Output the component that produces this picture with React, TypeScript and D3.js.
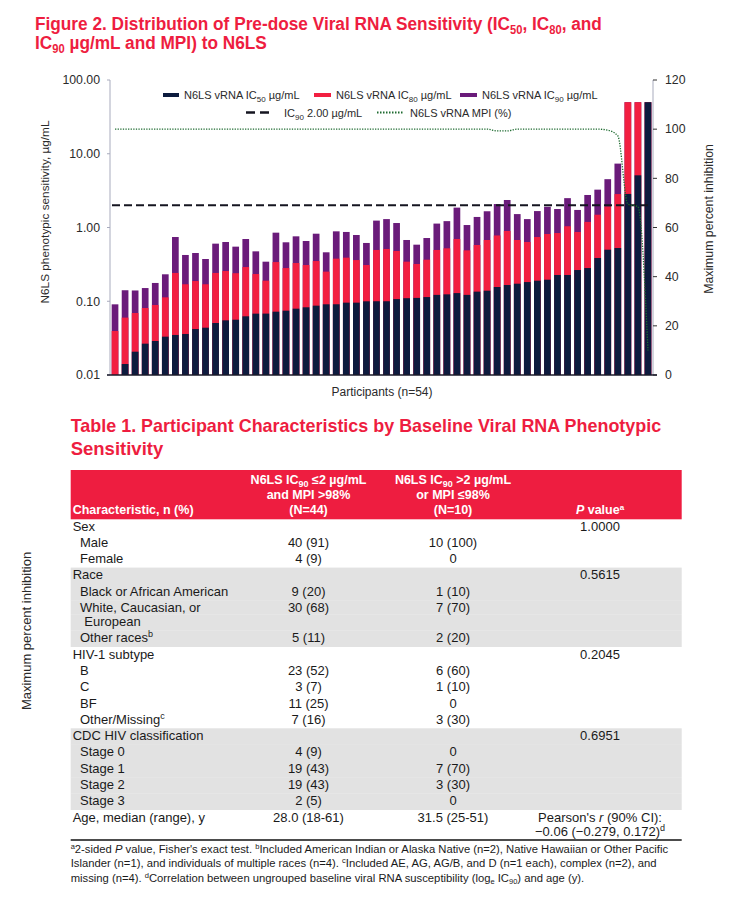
import React, { useLayoutEffect, useRef, useState } from "react";
import * as d3 from "d3";

// ---------- Chart data ----------
const participants = Array.from({ length: 54 }, (_, i) => i + 1);
const ic50 = [0.009, 0.0141, 0.0207, 0.0266, 0.0289, 0.0331, 0.0349, 0.036, 0.042, 0.0438, 0.0507, 0.0551, 0.0562, 0.0625, 0.0679, 0.068, 0.0722, 0.0745, 0.0793, 0.0828, 0.0871, 0.0909, 0.091, 0.0957, 0.0957, 0.0998, 0.1, 0.1, 0.107, 0.11, 0.111, 0.114, 0.122, 0.124, 0.129, 0.122, 0.135, 0.139, 0.156, 0.166, 0.173, 0.182, 0.19, 0.196, 0.227, 0.227, 0.265, 0.282, 0.386, 0.5, 0.527, 2.85, 5.1, 50];
const ic80 = [0.0395, 0.06, 0.0693, 0.081, 0.089, 0.113, 0.242, 0.17, 0.188, 0.17, 0.242, 0.257, 0.24, 0.291, 0.234, 0.19, 0.34, 0.282, 0.33, 0.31, 0.351, 0.252, 0.378, 0.39, 0.362, 0.31, 0.496, 0.511, 0.48, 0.344, 0.32, 0.366, 0.496, 0.522, 0.698, 0.49, 0.579, 0.677, 0.78, 0.897, 0.677, 0.636, 0.743, 0.816, 0.842, 1.04, 0.869, 1.19, 1.49, 1.93, 2.84, 50, 50, 50];
const ic90 = [0.0908, 0.141, 0.14, 0.151, 0.177, 0.232, 0.743, 0.424, 0.451, 0.374, 0.604, 0.636, 0.55, 0.698, 0.475, 0.344, 0.851, 0.63, 0.759, 0.656, 0.824, 0.461, 0.887, 0.87, 0.791, 0.617, 1.24, 1.3, 1.15, 0.677, 0.585, 0.72, 1.13, 1.22, 1.86, 1.08, 1.39, 1.66, 2.08, 2.36, 1.52, 1.3, 1.67, 1.91, 1.78, 2.5, 1.73, 2.76, 3.26, 4.52, 7.35, 50, 50, 50];
const mpi = [100, 100, 100, 100, 100, 100, 100, 100, 100, 100, 100, 100, 100, 100, 100, 100, 100, 100, 100, 100, 100, 100, 100, 100, 100, 100, 100, 100, 100, 100, 100, 100, 100, 100, 100, 100, 100, 100, 99.3, 99.3, 100, 100, 100, 100, 100, 100, 100, 100, 100, 99.6, 97.3, 69.5, 68.5, 10];
const leftTicks = [0.01, 0.1, 1, 10, 100];
const rightTicks = [0, 20, 40, 60, 80, 100, 120];
const ic90Threshold = 2;

// ---------- Table data ----------
const rowLabels = ["Sex", "Male", "Female", "Race", "Black or African American", "White, Caucasian, or", "European", "Other races", "HIV-1 subtype", "B", "C", "BF", "Other/Missing", "CDC HIV classification", "Stage 0", "Stage 1", "Stage 2", "Stage 3", "Age, median (range), y"];
const rowIndent = [0, 1, 1, 0, 1, 1, 2, 1, 0, 1, 1, 1, 1, 0, 1, 1, 1, 1, 0];
const rowSup = ["", "", "", "", "", "", "", "b", "", "", "", "", "c", "", "", "", "", "", ""];
const group1 = ["", "40 (91)", "4 (9)", "", "9 (20)", "30 (68)", "", "5 (11)", "", "23 (52)", "3 (7)", "11 (25)", "7 (16)", "", "4 (9)", "19 (43)", "19 (43)", "2 (5)", "28.0 (18-61)"];
const group2 = ["", "10 (100)", "0", "", "1 (10)", "7 (70)", "", "2 (20)", "", "6 (60)", "1 (10)", "0", "3 (30)", "", "0", "7 (70)", "3 (30)", "0", "31.5 (25-51)"];
const pValues = ["1.0000", "", "", "0.5615", "", "", "", "", "0.2045", "", "", "", "", "0.6951", "", "", "", "", ""];
const shadedRows = [3, 4, 5, 6, 7, 13, 14, 15, 16, 17];

const SANS = "'Liberation Sans', Arial, Helvetica, sans-serif";
const NARROW = "'Liberation Sans Narrow', 'Arial Narrow', 'Liberation Sans', sans-serif";
const RED = "#EE1D40";
const NAVY = "#0D1B3E";
const BAR_RED = "#F21F41";
const PURPLE = "#6A1B7A";
const GREEN = "#1E6B30";
const TXT = "#2a2a2a";

export default function App() {
  const x = d3.scaleBand<number>().domain(participants).range([110, 653]).paddingInner(0.334).paddingOuter(0.167);
  const y = d3.scaleLog().domain([0.01, 100]).range([375, 80]);
  const y2 = d3.scaleLinear().domain([0, 120]).range([375, 80]);
  const bw = x.bandwidth();
  const cx = (i: number) => (x(participants[i]) as number) + bw / 2;
  const mpiLine = d3.line<number>().x((_, i) => cx(i)).y((d) => y2(d)).curve(d3.curveMonotoneX)(mpi) || "";
  const barH = (v: number) => Math.max(0, y(0.01) - y(Math.max(v, 0.01)));

  const t1 = useRef<SVGTextElement>(null);
  const t2 = useRef<SVGTextElement>(null);
  const [s1, setS1] = useState(0.93);
  const [s2, setS2] = useState(0.93);
  useLayoutEffect(() => {
    if (t1.current) {
      const w = t1.current.getBBox().width;
      if (w > 0) setS1(567 / w);
    }
    if (t2.current) {
      const w = t2.current.getBBox().width;
      if (w > 0) setS2(232 / w);
    }
  }, []);

  // table row baselines
  const rowY: number[] = [];
  let cur = 530.5;
  rowLabels.forEach((_, i) => {
    if (i > 0) cur += i === 6 ? 14 : 16.3;
    rowY.push(cur);
  });

  return (
    <svg width={736} height={906} style={{ position: "absolute", left: 0, top: 0, background: "#fff" }} fontFamily={SANS}>
      {/* Figure title */}
      <g transform={`translate(35,30) scale(${s1},1)`}>
        <text ref={t1} x={0} y={0} fill={RED} fontFamily={NARROW} fontWeight="bold" fontSize={18.5}>
          Figure 2. Distribution of Pre-dose Viral RNA Sensitivity (IC<tspan dy={4} fontSize={12}>50</tspan><tspan dy={-4}>, IC</tspan><tspan dy={4} fontSize={12}>80</tspan><tspan dy={-4}>, and</tspan>
        </text>
      </g>
      <g transform={`translate(35,49.3) scale(${s2},1)`}>
        <text ref={t2} x={0} y={0} fill={RED} fontFamily={NARROW} fontWeight="bold" fontSize={18.5}>
          IC<tspan dy={4} fontSize={12}>90</tspan><tspan dy={-4}> µg/mL and MPI) to N6LS</tspan>
        </text>
      </g>

      {/* Bars */}
      <g>
        {participants.map((p, i) => (
          <g key={p}>
            <rect x={x(p)} y={y(0.01) - barH(ic90[i])} width={bw} height={barH(ic90[i])} fill={PURPLE} />
            <rect x={x(p)} y={y(0.01) - barH(ic80[i])} width={bw} height={barH(ic80[i])} fill={BAR_RED} />
            <rect x={x(p)} y={y(0.01) - barH(ic50[i])} width={bw} height={barH(ic50[i])} fill={NAVY} />
          </g>
        ))}
      </g>

      {/* IC90 threshold line */}
      <line x1={112} x2={648} y1={y(ic90Threshold)} y2={y(ic90Threshold)} stroke="#151520" strokeWidth={2} strokeDasharray="8,4" />
      {/* MPI line */}
      <path d={mpiLine} fill="none" stroke={GREEN} strokeWidth={1.3} strokeDasharray="1.3,1.3" />

      {/* Left axis */}
      <line x1={110} x2={110} y1={80} y2={375} stroke="#A8ABBD" strokeWidth={1} />
      {leftTicks.map((t) => (
        <g key={t}>
          <line x1={107} x2={110} y1={y(t)} y2={y(t)} stroke="#A8ABBD" />
          <text x={100} y={y(t) + 4.3} textAnchor="end" fontSize={12.3} fill={TXT}>{d3.format(".2f")(t)}</text>
        </g>
      ))}
      <text transform={`translate(49,212) rotate(-90)`} textAnchor="middle" fontSize={11.8} fill={TXT}>N6LS phenotypic sensitivity, µg/mL</text>

      {/* Right axis */}
      <line x1={653} x2={653} y1={80} y2={375} stroke="#A8ABBD" strokeWidth={1} />
      {rightTicks.map((t) => (
        <g key={t}>
          <line x1={653} x2={657} y1={y2(t)} y2={y2(t)} stroke="#333" />
          <text x={665} y={y2(t) + 4.3} textAnchor="start" fontSize={12.3} fill={TXT}>{t}</text>
        </g>
      ))}
      <text transform={`translate(713,219) rotate(-90)`} textAnchor="middle" fontSize={12.3} fill={TXT}>Maximum percent inhibition</text>

      {/* Bottom axis */}
      <line x1={107} x2={657} y1={375} y2={375} stroke="#1a1a2a" strokeWidth={1.5} />
      <text x={382} y={396} textAnchor="middle" fontSize={12} fill={TXT}>Participants (n=54)</text>

      {/* Legend */}
      <g fontSize={11} fill={TXT}>
        <line x1={163} x2={179} y1={95} y2={95} stroke={NAVY} strokeWidth={4} />
        <text x={184} y={99}>N6LS vRNA IC<tspan dy={3} fontSize={8}>50</tspan><tspan dy={-3}> µg/mL</tspan></text>
        <line x1={314} x2={331} y1={95} y2={95} stroke={BAR_RED} strokeWidth={4} />
        <text x={336} y={99}>N6LS vRNA IC<tspan dy={3} fontSize={8}>80</tspan><tspan dy={-3}> µg/mL</tspan></text>
        <line x1={460} x2={477} y1={95} y2={95} stroke={PURPLE} strokeWidth={4} />
        <text x={482} y={99}>N6LS vRNA IC<tspan dy={3} fontSize={8}>90</tspan><tspan dy={-3}> µg/mL</tspan></text>
        <line x1={246} x2={271} y1={112.5} y2={112.5} stroke="#151520" strokeWidth={2.5} strokeDasharray="9,5" />
        <text x={284} y={116.5}>IC<tspan dy={3} fontSize={8}>90</tspan><tspan dy={-3}> 2.00 µg/mL</tspan></text>
        <line x1={377} x2={403} y1={112.5} y2={112.5} stroke={GREEN} strokeWidth={2} strokeDasharray="1.5,1.5" />
        <text x={410} y={116.5}>N6LS vRNA MPI (%)</text>
      </g>

      {/* Stray axis title */}
      <text transform={`translate(31,631) rotate(-90)`} textAnchor="middle" fontSize={13} fill={TXT}>Maximum percent inhibition</text>

      {/* Table title */}
      <text x={70.7} y={432} fill={RED} fontFamily={NARROW} fontWeight="bold" fontSize={18.5} textLength={590.5} lengthAdjust="spacingAndGlyphs">Table 1. Participant Characteristics by Baseline Viral RNA Phenotypic</text>
      <text x={70.7} y={455} fill={RED} fontFamily={NARROW} fontWeight="bold" fontSize={18.5}>Sensitivity</text>

      {/* Table header */}
      <rect x={70.7} y={470} width={611} height={49.3} fill={RED} />
      <g fill="#fff" fontWeight="bold" fontSize={12.5}>
        <text x={72.7} y={514}>Characteristic, n (%)</text>
        <text x={308.5} y={484} textAnchor="middle">N6LS IC<tspan dy={3} fontSize={9}>90</tspan><tspan dy={-3}> ≤2 µg/mL</tspan></text>
        <text x={308.5} y={499} textAnchor="middle">and MPI &gt;98%</text>
        <text x={308.5} y={514} textAnchor="middle">(N=44)</text>
        <text x={453} y={484} textAnchor="middle">N6LS IC<tspan dy={3} fontSize={9}>90</tspan><tspan dy={-3}> &gt;2 µg/mL</tspan></text>
        <text x={453} y={499} textAnchor="middle">or MPI ≤98%</text>
        <text x={453} y={514} textAnchor="middle">(N=10)</text>
        <text x={600} y={514} textAnchor="middle"><tspan fontStyle="italic">P</tspan> value<tspan dy={-4} fontSize={8}>a</tspan></text>
      </g>

      {/* Shaded bands */}
      {shadedRows.map((r) => (
        <rect key={r} x={70.7} y={rowY[r] - 11.8} width={611} height={r === 5 ? 14 : 16.5} fill="#E2E2E2" />
      ))}

      {/* Table body */}
      <g fontSize={13} fill="#1a1a1a">
        {rowLabels.map((lab, i) => (
          <g key={i}>
            <text x={72.7 + rowIndent[i] * 7.3 + (rowIndent[i] === 2 ? -3 : 0)} y={rowY[i]}>
              {lab}
              {rowSup[i] ? <tspan dy={-5} fontSize={9}>{rowSup[i]}</tspan> : null}
            </text>
            {group1[i] ? <text x={308.5} y={rowY[i]} textAnchor="middle">{group1[i]}</text> : null}
            {group2[i] ? <text x={453} y={rowY[i]} textAnchor="middle">{group2[i]}</text> : null}
            {pValues[i] ? <text x={600} y={rowY[i]} textAnchor="middle">{pValues[i]}</text> : null}
          </g>
        ))}
        <text x={600} y={rowY[18]} textAnchor="middle">Pearson's <tspan fontStyle="italic">r</tspan> (90% CI):</text>
        <text x={600} y={rowY[18] + 14.5} textAnchor="middle">−0.06 (−0.279, 0.172)<tspan dy={-5} fontSize={9}>d</tspan></text>
      </g>
      <line x1={70.7} x2={681.7} y1={840} y2={840} stroke="#111" strokeWidth={1.5} />

      {/* Footnotes */}
      <g fontSize={11.25} fill="#1a1a1a">
        <text x={70.7} y={852.5}>
          <tspan dy={-4} fontSize={7.5}>a</tspan><tspan dy={4}>2-sided </tspan><tspan fontStyle="italic">P</tspan> value, Fisher's exact test. <tspan dy={-4} fontSize={7.5}>b</tspan><tspan dy={4}>Included American Indian or Alaska Native (n=2), Native Hawaiian or Other Pacific</tspan>
        </text>
        <text x={70.7} y={867}>
          Islander (n=1), and individuals of multiple races (n=4). <tspan dy={-4} fontSize={7.5}>c</tspan><tspan dy={4}>Included AE, AG, AG/B, and D (n=1 each), complex (n=2), and</tspan>
        </text>
        <text x={70.7} y={881.5}>
          missing (n=4). <tspan dy={-4} fontSize={7.5}>d</tspan><tspan dy={4}>Correlation between ungrouped baseline viral RNA susceptibility (log</tspan><tspan dy={2.5} fontSize={7.5}>e</tspan><tspan dy={-2.5}> IC</tspan><tspan dy={2.5} fontSize={7.5}>90</tspan><tspan dy={-2.5}>) and age (y).</tspan>
        </text>
      </g>
    </svg>
  );
}
